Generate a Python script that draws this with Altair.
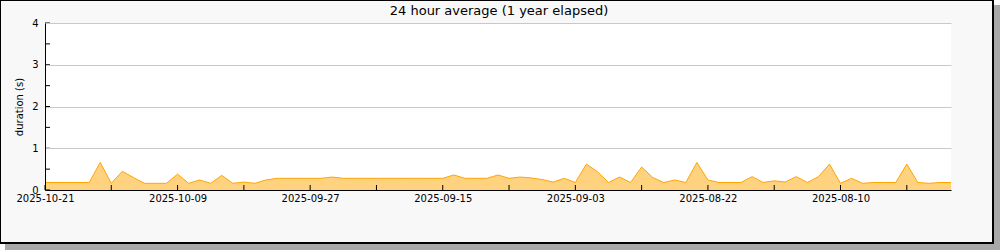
import altair as alt
import pandas as pd

# x categories: one point per day, from 2025-10-21 back to 2025-07-31
dates = pd.date_range("2025-10-21", periods=83, freq="-1D").strftime("%Y-%m-%d").tolist()

durations = [
    0.18, 0.18, 0.18, 0.18, 0.18, 0.66, 0.16, 0.45, 0.30, 0.16,
    0.16, 0.16, 0.38, 0.16, 0.24, 0.16, 0.35, 0.16, 0.19, 0.16,
    0.24, 0.28, 0.28, 0.28, 0.28, 0.28, 0.31, 0.28, 0.28, 0.28,
    0.28, 0.28, 0.28, 0.28, 0.28, 0.28, 0.28, 0.36, 0.28, 0.28,
    0.28, 0.36, 0.28, 0.31, 0.29, 0.25, 0.19, 0.28, 0.18, 0.62,
    0.44, 0.18, 0.31, 0.18, 0.55, 0.30, 0.18, 0.24, 0.18, 0.66,
    0.24, 0.18, 0.18, 0.18, 0.32, 0.18, 0.22, 0.19, 0.32, 0.18,
    0.32, 0.62, 0.16, 0.28, 0.16, 0.18, 0.18, 0.18, 0.62, 0.18,
    0.16, 0.18, 0.18,
]

x_domain = ["2025-07-31", "2025-10-21"]
x_label_dates = ["2025-10-21", "2025-10-09", "2025-09-27", "2025-09-15",
                 "2025-09-03", "2025-08-22", "2025-08-10"]
x_tick_dates = ["2025-10-21", "2025-10-15", "2025-10-09", "2025-10-03",
                "2025-09-27", "2025-09-21", "2025-09-15", "2025-09-09",
                "2025-09-03", "2025-08-28", "2025-08-22", "2025-08-16",
                "2025-08-10", "2025-08-04"]
y_label_values = [0, 1, 2, 3, 4]
y_tick_values = [0, 0.5, 1, 1.5, 2, 2.5, 3, 3.5, 4]

title_text = "24 hour average (1 year elapsed)"
y_title = "duration (s)"

W, H = 906, 167
FONT = "DejaVu Sans"


def dt(s):
    y, m, d = map(int, s.split("-"))
    return alt.DateTime(year=y, month=m, date=d, utc=True)


x_scale = alt.Scale(type="utc", domain=[dt(s) for s in x_domain], reverse=True)
y_scale = alt.Scale(domain=[0, 4], nice=False)

x_axis = alt.Axis(
    values=[dt(s) for s in x_label_dates],
    labelExpr="utcFormat(datum.value, '%Y-%m-%d')",
    ticks=False,
    labelPadding=3,
    labelFont=FONT,
    labelFontSize=10,
    labelColor="black",
    labelOverlap=False,
    labelFlush=False,
    labelAngle=0,
    domainColor="black",
    domainWidth=1,
    grid=False,
    title=None,
    zindex=1,
)
y_axis = alt.Axis(
    values=y_label_values,
    ticks=False,
    labelPadding=7,
    labelFont=FONT,
    labelFontSize=10,
    labelColor="black",
    domainColor="black",
    domainWidth=1,
    grid=True,
    gridColor="#c8c8c8",
    gridWidth=1,
    title=y_title,
    titleFont=FONT,
    titleFontSize=10,
    titleFontWeight="normal",
    titleColor="black",
    titlePadding=7,
    zindex=1,
)

one = pd.DataFrame({"k": [0]})


def box(x1, x2, y1, y2, **kw):
    return alt.Chart(one).mark_rect(**kw).encode(
        x=alt.value(x1), x2=alt.value(x2), y=alt.value(y1), y2=alt.value(y2)
    )


# decorative frame + drop shadow (outside the axes, so nothing is covered)
shadow_right = box(948, 960, -18, 230, fill="#a8a8a8")
shadow_bottom = box(-40, 960, 220, 230, fill="#a8a8a8")
white_tr = box(948, 960, -30, -18, fill="white")
white_bl = box(-50, -40, 220, 230, fill="white")
frame = box(-45, 948, -23, 220, fill="none", stroke="black", strokeWidth=2)

df = pd.DataFrame({"date": dates, "duration": durations})

area = alt.Chart(df).mark_area(
    color="#ffd280",
    opacity=1,
    interpolate="linear",
    line={"color": "#ffa500", "strokeWidth": 1},
).encode(
    x=alt.X("date:T", scale=x_scale, axis=x_axis),
    y=alt.Y("duration:Q", scale=y_scale, axis=y_axis),
)

x_ticks = alt.Chart(pd.DataFrame({"date": x_tick_dates})).mark_rule(
    color="black", strokeWidth=1
).encode(
    x=alt.X("date:T", scale=x_scale, axis=x_axis),
    y=alt.value(H - 5),
    y2=alt.value(H),
)

y_ticks = alt.Chart(pd.DataFrame({"duration": y_tick_values})).mark_rule(
    color="black", strokeWidth=1
).encode(
    y=alt.Y("duration:Q", scale=y_scale, axis=y_axis),
    x=alt.value(0),
    x2=alt.value(5),
)

title = alt.Chart(pd.DataFrame({"t": [title_text]})).mark_text(
    font=FONT, fontSize=13, color="black", align="center", baseline="alphabetic"
).encode(
    text="t:N",
    x=alt.value(W / 2 + 1),
    y=alt.value(-8),
)

chart = alt.layer(
    shadow_right, shadow_bottom, white_tr, white_bl, frame,
    area, x_ticks, y_ticks, title
).properties(
    width=W,
    height=H,
    padding={"left": 45, "top": 23, "right": 49, "bottom": 60},
    autosize=alt.AutoSizeParams(type="none"),
    background="#f8f8f8",
).configure_view(stroke=None, fill="white")

chart.save("out.html", embed_options={"renderer": "svg", "actions": False})
